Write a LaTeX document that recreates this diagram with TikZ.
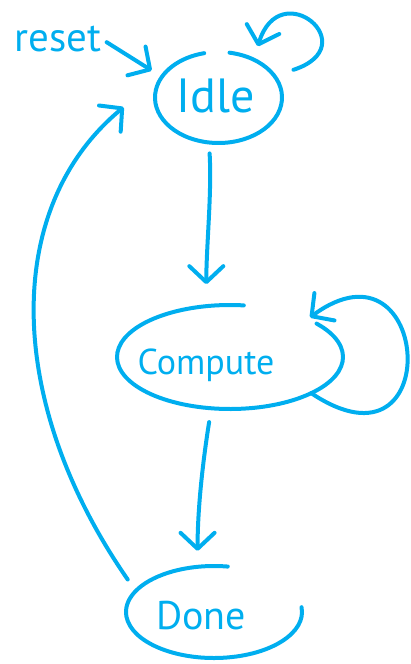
\documentclass[tikz,border=0pt]{standalone}
\usepackage{fontspec}
\setmainfont{PT Sans}
\usepackage{tikz}
\usetikzlibrary{arrows.meta,shapes.geometric}
\definecolor{ink}{RGB}{0,174,239}

\begin{document}
\begin{tikzpicture}[x=1pt,y=-1pt,
    pen/.style={ink, line width=4pt, line cap=round, line join=round},
    arr/.style={pen, -{Straight Barb[length=16pt,width=34pt,round]}},
    state/.style={ellipse, inner sep=0pt, outer sep=0pt},
    txt/.style={text=ink, inner sep=0pt}]
    \useasboundingbox (0,0) rectangle (410,664);

    \node[state, minimum width=127pt, minimum height=91pt,
        label={[txt, font=\fontsize{48}{54}\selectfont, xshift=-3pt, yshift=2pt]center:Idle}] (idle) at (218.5,97.5) {};
    \node[state, minimum width=226pt, minimum height=104pt,
        label={[txt, font=\fontsize{36}{42}\selectfont, xshift=-24pt, yshift=-8pt]center:Compute}] (compute) at (230,357) {};
    \node[state, minimum width=176pt, minimum height=92pt,
        label={[txt, font=\fontsize{40}{46}\selectfont, xshift=-13pt, yshift=-4pt]center:Done}] (done) at (214,612) {};
    \node[txt, font=\fontsize{41}{47}\selectfont] (reset) at (58,39) {reset};

    \draw[pen] (idle.center) ++(-80:63.5 and 45.5) arc[start angle=-80, end angle=257, x radius=63.5, y radius=45.5];
    \draw[pen] (compute.center) ++(-40:113 and 52) arc[start angle=-40, end angle=277, x radius=113, y radius=52];
    \draw[pen] (done.center) ++(-6:88 and 46) arc[start angle=-6, end angle=279, x radius=88, y radius=46];

    \draw[arr, shorten <=6pt, shorten >=12pt] (reset.east) -- (idle.160);
    \draw[arr, shorten <=20pt, shorten >=14pt] (idle.21) .. controls +(92,-30) and +(26,-86) .. (idle.47);
    \draw[arr, shorten <=11pt, shorten >=22pt] (idle.258) .. controls +(3,50) and +(0,-60) .. (compute.115);
    \draw[arr, shorten >=3pt] (compute.-24) .. controls +(136,91) and +(124,-91) .. (compute.26);
    \draw[arr, shorten <=14pt, shorten >=16pt] (compute.250) .. controls +(-8,50) and +(0,-60) .. (done.110);
    \draw[arr, shorten <=14pt, shorten >=54pt] (done.165) .. controls +(-131,-189) and +(-163,135) .. (idle.155);
\end{tikzpicture}
\end{document}
